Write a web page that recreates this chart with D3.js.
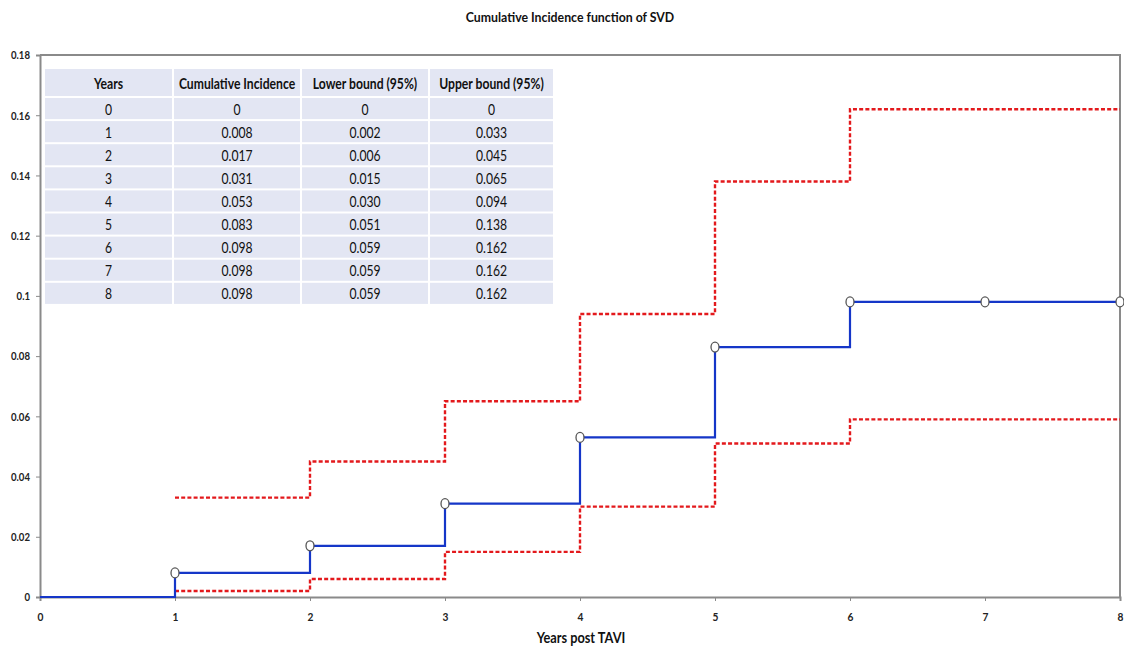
<!DOCTYPE html>
<html>
<head>
<meta charset="utf-8">
<script src="https://cdn.jsdelivr.net/npm/d3@7"></script>
<style>
  html, body { margin: 0; padding: 0; background: #fff; }
  svg { display: block; }
</style>
</head>
<body>
<div id="chart"></div>
<script>
// ---- data ----
var years      = [0, 1, 2, 3, 4, 5, 6, 7, 8];
var cumInc     = [0, 0.008, 0.017, 0.031, 0.053, 0.083, 0.098, 0.098, 0.098];
var lowerBound = [0, 0.002, 0.006, 0.015, 0.030, 0.051, 0.059, 0.059, 0.059];
var upperBound = [0, 0.033, 0.045, 0.065, 0.094, 0.138, 0.162, 0.162, 0.162];
var tableHeaders = ['Years', 'Cumulative Incidence', 'Lower bound (95%)', 'Upper bound (95%)'];
var yTicks = [0, 0.02, 0.04, 0.06, 0.08, 0.1, 0.12, 0.14, 0.16, 0.18];
var xTicks = [0, 1, 2, 3, 4, 5, 6, 7, 8];

var W = 1124, H = 651;
var margin = { top: 55, right: 4, bottom: 54, left: 40 };
var font = 'Lato, "Open Sans", sans-serif';

var svg = d3.select('#chart').append('svg')
  .attr('width', W).attr('height', H);

var x = d3.scaleLinear().domain([0, 8]).range([margin.left, W - margin.right]);
var y = d3.scaleLinear().domain([0, 0.18]).range([H - margin.bottom, margin.top]);

// text squeezed horizontally (the source uses a narrow face)
function narrowText(parent, tx, ty, txt, size, weight, sx, anchor) {
  return parent.append('text')
    .attr('transform', 'translate(' + tx + ',' + ty + ') scale(' + sx + ',1)')
    .attr('text-anchor', anchor || 'middle')
    .attr('font-family', font)
    .attr('font-weight', weight)
    .attr('font-size', size)
    .attr('fill', '#111')
    .text(txt);
}

// Title
narrowText(svg, 570, 22, 'Cumulative Incidence function of SVD', 14, 700, 0.88);

// Frame (top and right borders)
svg.append('path')
  .attr('d', 'M' + x(0) + ',' + y(0.18) + 'H' + x(8) + 'V' + y(0))
  .attr('fill', 'none')
  .attr('stroke', '#8a8a8a')
  .attr('stroke-width', 2);

// Axes
var yAxis = d3.axisLeft(y).tickValues(yTicks).tickSize(4).tickPadding(0)
  .tickFormat(function(d) { return d === 0 ? '0' : String(+d.toFixed(2)); });
var gy = svg.append('g')
  .attr('transform', 'translate(' + x(0) + ',0)')
  .call(yAxis);

var xAxis = d3.axisBottom(x).tickValues(xTicks).tickSize(4).tickPadding(11);
var gx = svg.append('g')
  .attr('transform', 'translate(0,' + y(0) + ')')
  .call(xAxis);

[gx, gy].forEach(function(g) {
  g.select('.domain').attr('stroke', '#8a8a8a').attr('stroke-width', 2);
  g.selectAll('.tick line').attr('stroke', '#8a8a8a');
  g.selectAll('.tick text')
    .attr('font-family', font)
    .attr('font-weight', 700)
    .attr('font-size', 12)
    .attr('fill', '#222');
});
gy.selectAll('.tick text').attr('x', 0)
  .attr('transform', 'translate(-10,0) scale(0.8,1)');
gx.selectAll('.tick text').attr('transform', 'scale(0.85,1)');

// X axis label
narrowText(svg, 581, 643, 'Years post TAVI', 15, 700, 0.85);

// Step lines
var stepLine = d3.line()
  .x(function(d) { return x(d[0]); })
  .y(function(d) { return y(d[1]); })
  .curve(d3.curveStepAfter);

var ciPts = years.map(function(yr, i) { return [yr, cumInc[i]]; });
var loPts = years.slice(1).map(function(yr, i) { return [yr, lowerBound[i + 1]]; });
var upPts = years.slice(1).map(function(yr, i) { return [yr, upperBound[i + 1]]; });

[upPts, loPts].forEach(function(pts) {
  svg.append('path')
    .attr('d', stepLine(pts))
    .attr('fill', 'none')
    .attr('stroke', '#e3191c')
    .attr('stroke-width', 2.4)
    .attr('stroke-dasharray', '4,2.2');
});

svg.append('path')
  .attr('d', stepLine(ciPts))
  .attr('fill', 'none')
  .attr('stroke', '#1536c8')
  .attr('stroke-width', 2.2);

// Markers at years 1..8
svg.selectAll('ellipse.mk')
  .data(ciPts.slice(1))
  .enter().append('ellipse')
  .attr('class', 'mk')
  .attr('cx', function(d) { return x(d[0]); })
  .attr('cy', function(d) { return y(d[1]); })
  .attr('rx', 4).attr('ry', 5)
  .attr('fill', '#fff')
  .attr('stroke', '#555')
  .attr('stroke-width', 1.3);

// Table
var colX = [45, 174, 302, 430];
var colW = [127, 126, 126, 123];
var headH = 29, rowH = 23.1, tableTop = 69;
var fmt = function(v) { return v === 0 ? '0' : v.toFixed(3); };
var rows = years.map(function(yr, i) {
  return [String(yr), fmt(cumInc[i]), fmt(lowerBound[i]), fmt(upperBound[i])];
});

var tbl = svg.append('g');
function drawRow(cells, top, h, bold) {
  cells.forEach(function(txt, c) {
    tbl.append('rect')
      .attr('x', colX[c]).attr('y', top)
      .attr('width', colW[c]).attr('height', h - 2)
      .attr('fill', '#e3e6f3');
    narrowText(tbl, colX[c] + colW[c] / 2, top + (h - 2) / 2 + 6,
      txt, 16, bold ? 700 : 400, 0.76);
  });
}
drawRow(tableHeaders, tableTop, headH, true);
rows.forEach(function(r, i) {
  drawRow(r, tableTop + headH + i * rowH, rowH, false);
});
</script>
</body>
</html>
